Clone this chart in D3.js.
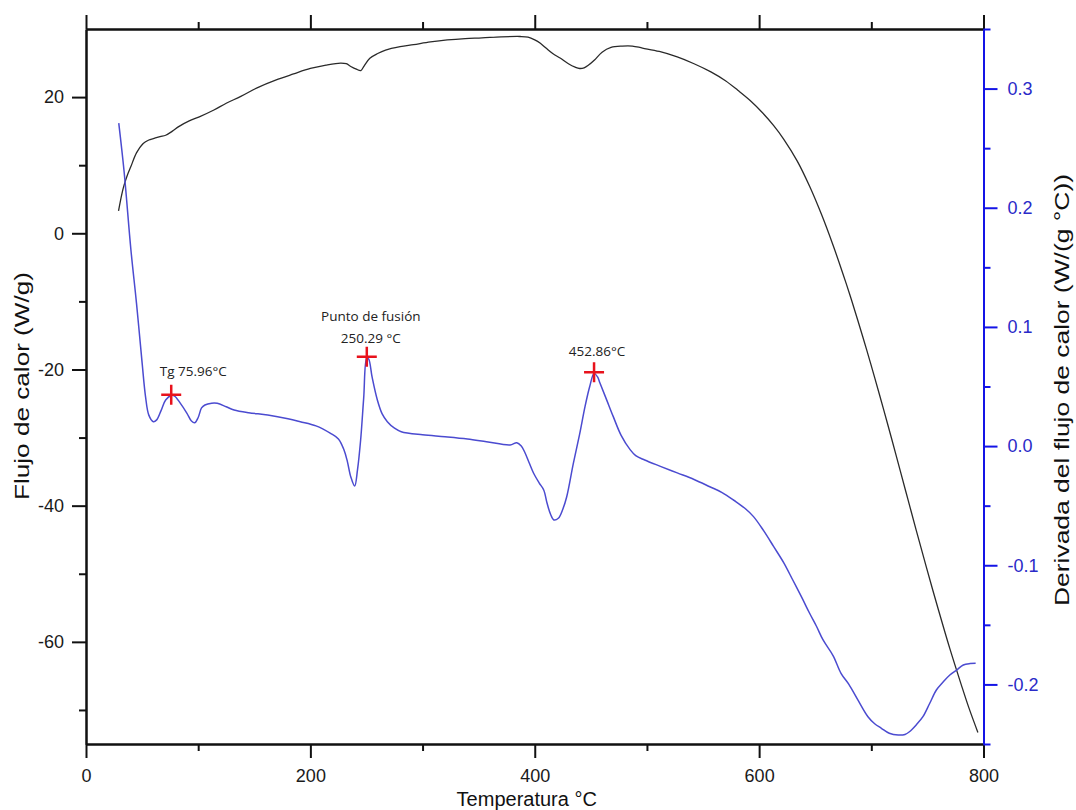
<!DOCTYPE html>
<html>
<head>
<meta charset="utf-8">
<script src="https://cdn.jsdelivr.net/npm/d3@7"></script>
<style>
  body { margin: 0; background: #fff; }
  svg { display: block; font-family: "Liberation Sans", Arial, sans-serif; }
</style>
</head>
<body>
<svg id="chart" width="1076" height="810"></svg>
<script>
// heat flow curve (left axis), temperature in °C, W/g
const flowT = [29, 32, 34, 37, 40, 45, 51, 56, 60, 66, 71, 77, 83, 92, 101, 114, 125, 138, 153, 169,
  185, 200, 214, 227, 232, 236, 241, 245, 248, 253, 260, 267, 280, 292, 307, 322, 338, 353, 370, 387,
  394, 400, 405, 410, 416, 423, 430, 436, 440, 444, 448, 453, 460, 468, 478, 487, 496, 511, 527, 542,
  557, 570, 581, 592, 603, 613, 622, 634, 645, 656, 666, 674, 681, 688, 696, 703, 711, 718, 726, 733,
  740, 749, 760, 770, 780, 787, 795]
const flowW = [3.3, 5.8, 7.1, 8.6, 9.8, 11.8, 13.2, 13.7, 13.9, 14.2, 14.4, 15.0, 15.7, 16.5, 17.1, 18.1, 19.1, 20.1, 21.4, 22.5,
  23.4, 24.2, 24.7, 25.0, 24.9, 24.5, 24.1, 23.9, 24.6, 25.7, 26.4, 26.9, 27.4, 27.7, 28.1, 28.4, 28.6, 28.7, 28.85, 28.9,
  28.8, 28.4, 27.9, 27.2, 26.4, 25.7, 24.9, 24.4, 24.2, 24.3, 24.7, 25.4, 26.6, 27.3, 27.5, 27.5, 27.2, 26.7, 25.9, 24.9,
  23.7, 22.4, 21.0, 19.5, 17.7, 15.8, 13.8, 10.6, 6.9, 2.6, -1.8, -5.6, -9.1, -12.8, -17.2, -21.2, -25.9, -30.1, -35.0, -39.3,
  -43.6, -49.0, -55.4, -61.0, -66.2, -69.7, -73.3]

// derivative curve (right axis), W/(g °C)
const derivT = [29.2, 34, 40, 45, 50, 53, 56, 60, 63, 67, 71, 76, 79, 84, 90, 94, 97, 100, 103, 106,
  112, 117, 125, 132, 145, 162, 180, 191, 205, 218, 225, 230, 233, 236, 239.5, 242, 244.8, 247.5, 250.3, 252,
  255, 259.7, 264, 268.6, 275, 281, 300, 320, 340, 357, 378, 384, 388, 391, 395, 399, 404, 408, 411, 414,
  417, 421, 425, 428.5, 434.4, 440, 444.8, 449, 452.9, 456, 458.2, 464, 470, 477, 485, 490, 498, 512, 527, 542,
  556, 567, 578, 587, 595, 604, 613, 622, 630, 638, 645, 651, 657, 666, 673, 680, 688, 697, 703, 709,
  716, 724, 730, 734, 740, 746, 752, 758, 764, 770, 776, 782, 788, 793]
const derivD = [0.271, 0.23, 0.165, 0.12, 0.07, 0.042, 0.026, 0.0205, 0.022, 0.030, 0.0387, 0.0425, 0.042, 0.036, 0.0275, 0.021, 0.0196, 0.024, 0.032, 0.0345,
  0.036, 0.0359, 0.033, 0.0303, 0.028, 0.0261, 0.023, 0.0205, 0.017, 0.0107, 0.006, -0.0033, -0.013, -0.0257, -0.0335, -0.02, 0.0051, 0.04, 0.074, 0.073,
  0.058, 0.0387, 0.027, 0.0205, 0.015, 0.0121, 0.0095, 0.0079, 0.006, 0.0037, 0.0009, 0.0028, 0.0, -0.005, -0.014, -0.0228, -0.031, -0.0368, -0.048, -0.057,
  -0.062, -0.0606, -0.053, -0.0425, -0.0145, 0.01, 0.0331, 0.050, 0.061, 0.058, 0.0527, 0.039, 0.0247, 0.009, -0.003, -0.008, -0.0117, -0.017, -0.0225, -0.028,
  -0.0341, -0.039, -0.0458, -0.052, -0.0592, -0.071, -0.0844, -0.098, -0.1124, -0.127, -0.1403, -0.151, -0.1627, -0.176, -0.1907, -0.20, -0.213, -0.2271, -0.233, -0.2368,
  -0.241, -0.2425, -0.242, -0.2397, -0.234, -0.2271, -0.216, -0.2047, -0.198, -0.1921, -0.188, -0.1837, -0.1825, -0.1823]

// marked peaks
const peakT = [75.96, 250.29, 452.86]
const peakD = [0.043, 0.075, 0.062]
const peakLabels = [["Tg 75.96°C"], ["Punto de fusión", "250.29 °C"], ["452.86°C"]]

// ticks
const xMajor = [0, 200, 400, 600, 800]
const xMinor = [100, 300, 500, 700]
const leftMajor = [20, 0, -20, -40, -60]
const leftMinor = [10, -10, -30, -50, -70]
const rightMajor = [0.3, 0.2, 0.1, 0.0, -0.1, -0.2]
const rightMinor = [0.35, 0.25, 0.15, 0.05, -0.05, -0.15, -0.25]

const LEFT = 86, RIGHT = 983.5, TOP = 29, BOTTOM = 744
const BLUE_AXIS = "#1414e6"

function main() {
  const svg = d3.select("#chart")

  const x = d3.scaleLinear().domain([0, 800]).range([LEFT, RIGHT])
  const yL = d3.scaleLinear().domain([-75, 30]).range([BOTTOM, TOP])
  const yR = d3.scaleLinear().domain([-0.25, 0.35]).range([BOTTOM, TOP])

  // curves first, axes drawn on top
  const flowLine = d3.line()
    .x((d, i) => x(flowT[i]))
    .y(d => yL(d))
    .curve(d3.curveCatmullRom.alpha(0.5))
  svg.append("path")
    .attr("d", flowLine(flowW))
    .attr("fill", "none")
    .attr("stroke", "#2a2a2a")
    .attr("stroke-width", 1.3)

  const derivLine = d3.line()
    .x((d, i) => x(derivT[i]))
    .y(d => yR(d))
    .curve(d3.curveCatmullRom.alpha(0.5))
  svg.append("path")
    .attr("d", derivLine(derivD))
    .attr("fill", "none")
    .attr("stroke", "#4b4bd0")
    .attr("stroke-width", 1.5)

  // axes
  function styleAxis(g, color) {
    g.attr("font-family", null).attr("font-size", null)
    g.selectAll("path.domain").attr("stroke", color).attr("stroke-width", 2)
    g.selectAll(".tick line").attr("stroke", color).attr("stroke-width", 2)
    g.selectAll(".tick text").attr("fill", color === BLUE_AXIS ? "#2a2ac8" : "#1a1a1a")
      .style("font-size", "18px")
  }

  const bottomMinor = svg.append("g").attr("transform", `translate(0,${BOTTOM})`)
    .call(d3.axisBottom(x).tickValues(xMinor).tickSize(7).tickSizeOuter(0).tickFormat(""))
  styleAxis(bottomMinor, "#111")
  const bottom = svg.append("g").attr("transform", `translate(0,${BOTTOM})`)
    .call(d3.axisBottom(x).tickValues(xMajor).tickSize(14).tickSizeOuter(0).tickPadding(11).tickFormat(d => String(d)))
  styleAxis(bottom, "#111")

  const topMinor = svg.append("g").attr("transform", `translate(0,${TOP})`)
    .call(d3.axisTop(x).tickValues(xMinor).tickSize(7).tickSizeOuter(0).tickFormat(""))
  styleAxis(topMinor, "#111")
  const top = svg.append("g").attr("transform", `translate(0,${TOP})`)
    .call(d3.axisTop(x).tickValues(xMajor).tickSize(14).tickSizeOuter(0).tickFormat(""))
  styleAxis(top, "#111")

  const leftMinorAx = svg.append("g").attr("transform", `translate(${LEFT},0)`)
    .call(d3.axisLeft(yL).tickValues(leftMinor).tickSize(7).tickSizeOuter(0).tickFormat(""))
  styleAxis(leftMinorAx, "#111")
  const left = svg.append("g").attr("transform", `translate(${LEFT},0)`)
    .call(d3.axisLeft(yL).tickValues(leftMajor).tickSize(14).tickSizeOuter(0).tickPadding(8).tickFormat(d => String(d)))
  styleAxis(left, "#111")

  const rightMinorAx = svg.append("g").attr("transform", `translate(${RIGHT},0)`)
    .call(d3.axisRight(yR).tickValues(rightMinor).tickSize(7).tickSizeOuter(0).tickFormat(""))
  styleAxis(rightMinorAx, BLUE_AXIS)
  const right = svg.append("g").attr("transform", `translate(${RIGHT},0)`)
    .call(d3.axisRight(yR).tickValues(rightMajor).tickSize(14).tickSizeOuter(0).tickPadding(10).tickFormat(d => d.toFixed(1)))
  styleAxis(right, BLUE_AXIS)

  // axis titles
  svg.append("text")
    .attr("x", (LEFT + RIGHT) / 2 - 8).attr("y", 806)
    .attr("text-anchor", "middle")
    .style("font-size", "20px").attr("fill", "#111")
    .text("Temperatura °C")

  svg.append("text")
    .attr("transform", "translate(29,386) rotate(-90)")
    .attr("text-anchor", "middle")
    .attr("textLength", 228).attr("lengthAdjust", "spacingAndGlyphs")
    .style("font-size", "19.5px").attr("fill", "#111")
    .text("Flujo de calor (W/g)")

  svg.append("text")
    .attr("transform", "translate(1069,390) rotate(-90)")
    .attr("text-anchor", "middle")
    .attr("textLength", 432).attr("lengthAdjust", "spacingAndGlyphs")
    .style("font-size", "19.5px").attr("fill", "#111")
    .text("Derivada del flujo de calor (W/(g °C))")

  // peak markers and notes
  const labelOffsets = [[22, -19], [4, -14], [3, -16]]
  const peaks = svg.append("g")
  peakT.forEach((t, i) => {
    const px = x(t), py = yR(peakD[i])
    peaks.append("path")
      .attr("d", `M${px - 10},${py}H${px + 10}M${px},${py - 10}V${py + 10}`)
      .attr("stroke", "#e8121c").attr("stroke-width", 2.5).attr("fill", "none")
    const lines = peakLabels[i]
    const [dx, dy] = labelOffsets[i]
    lines.forEach((s, j) => {
      peaks.append("text")
        .attr("x", px + dx)
        .attr("y", py + dy - (lines.length - 1 - j) * 22)
        .attr("text-anchor", "middle")
        .style("font-family", "'Open Sans', 'Noto Sans', sans-serif")
        .style("font-size", "13.5px")
        .attr("fill", "#222")
        .text(s)
    })
  })
}

main()
</script>
</body>
</html>
